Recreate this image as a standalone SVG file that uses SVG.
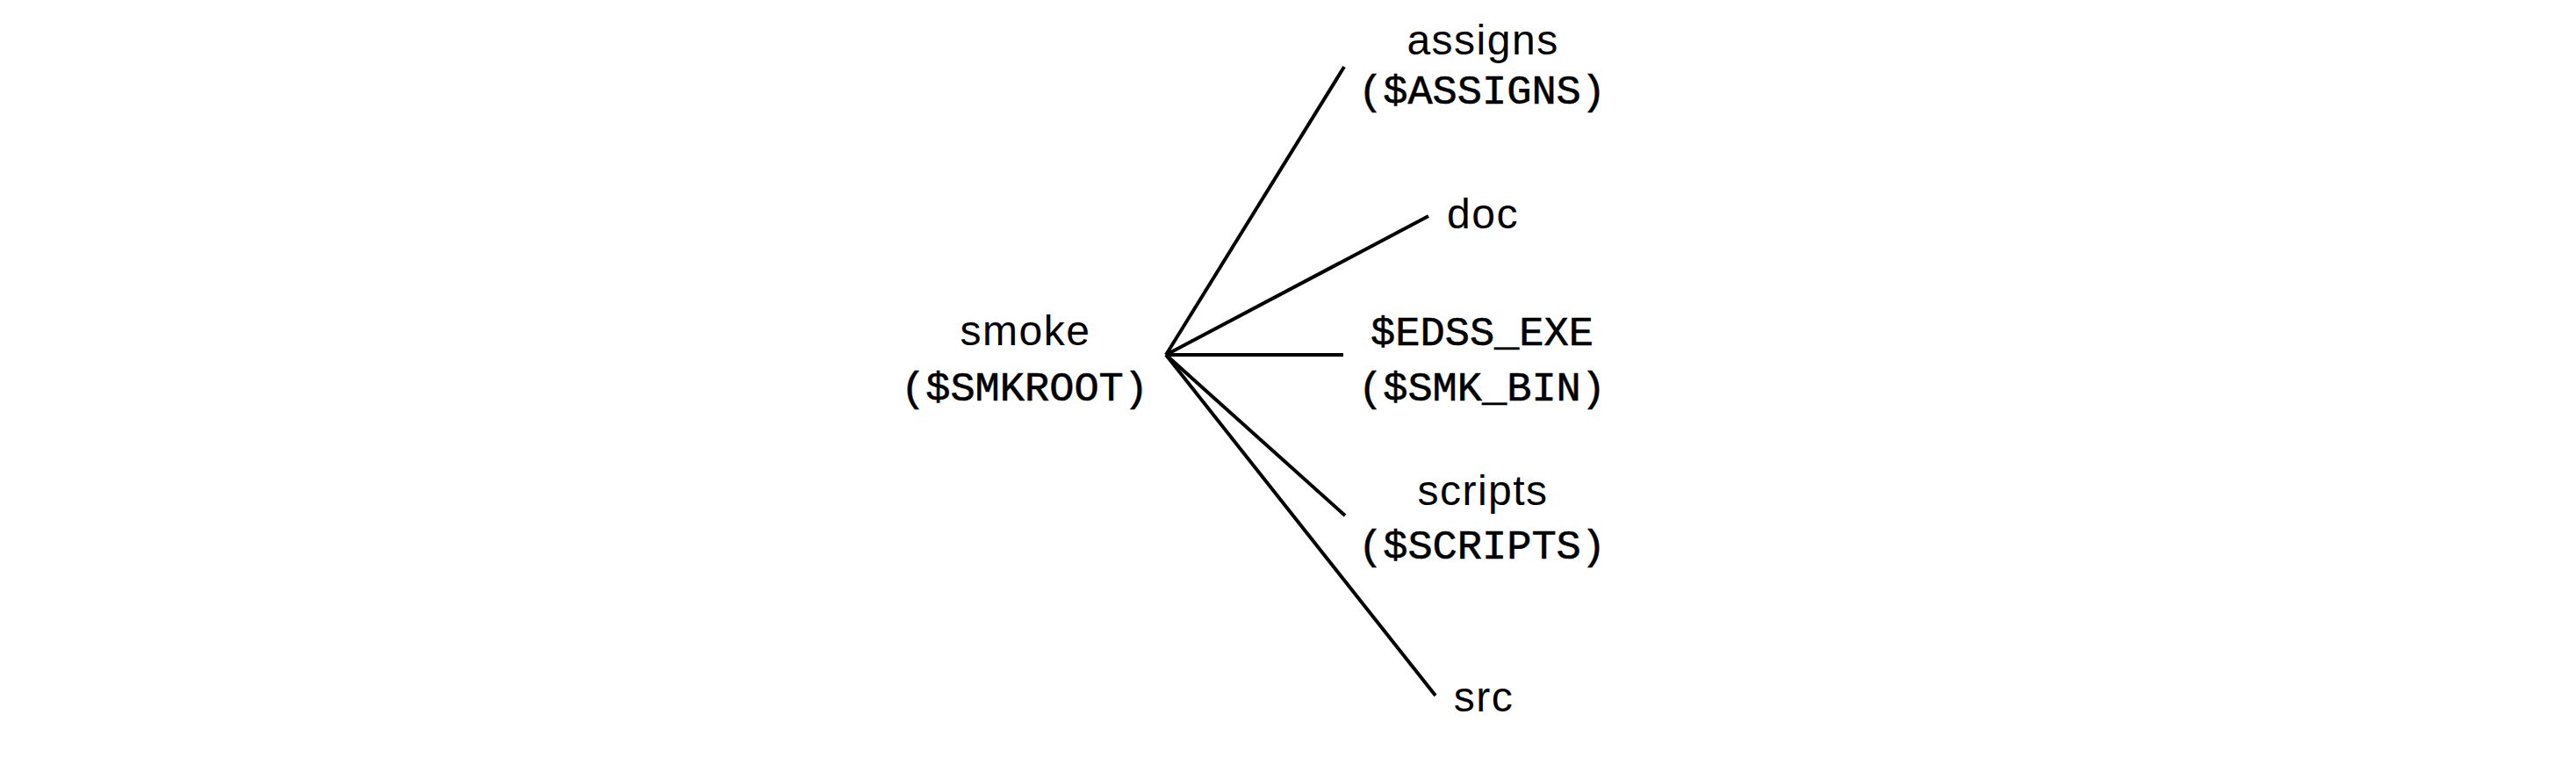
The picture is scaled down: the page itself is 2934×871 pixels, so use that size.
<svg xmlns="http://www.w3.org/2000/svg" width="2934" height="871" viewBox="0 0 2934 871">
<style>
.s{font-family:"Liberation Sans",Arial,sans-serif;font-size:48px;letter-spacing:1.5px;fill:#000;text-anchor:middle}
.m{font-family:"Liberation Mono","Courier New",monospace;font-size:47px;fill:#000;stroke:#000;stroke-width:0.6;text-anchor:middle}
.c{stroke:#000;stroke-width:4;fill:none;stroke-linecap:butt}
</style>
<rect width="2934" height="871" fill="#fff"/>
<g id="connectors">
<line class="c" x1="1328" y1="404" x2="1531" y2="76"/>
<line class="c" x1="1328" y1="404" x2="1627" y2="246"/>
<line class="c" x1="1328" y1="404" x2="1530" y2="404"/>
<line class="c" x1="1328" y1="404" x2="1532" y2="587"/>
<line class="c" x1="1328" y1="404" x2="1635" y2="792"/>
</g>
<g id="smoke"><text class="s" x="1168" y="393">smoke</text><text class="m" x="1167" y="456">($SMKROOT)</text></g>
<g id="assigns"><text class="s" x="1689" y="62">assigns</text><text class="m" x="1688" y="118">($ASSIGNS)</text></g>
<g id="doc"><text class="s" x="1689" y="260">doc</text></g>
<g id="edss"><text class="m" x="1688" y="393">$EDSS_EXE</text><text class="m" x="1688" y="456">($SMK_BIN)</text></g>
<g id="scripts"><text class="s" x="1689" y="575">scripts</text><text class="m" x="1688" y="636">($SCRIPTS)</text></g>
<g id="src"><text class="s" x="1690" y="810">src</text></g>
</svg>
